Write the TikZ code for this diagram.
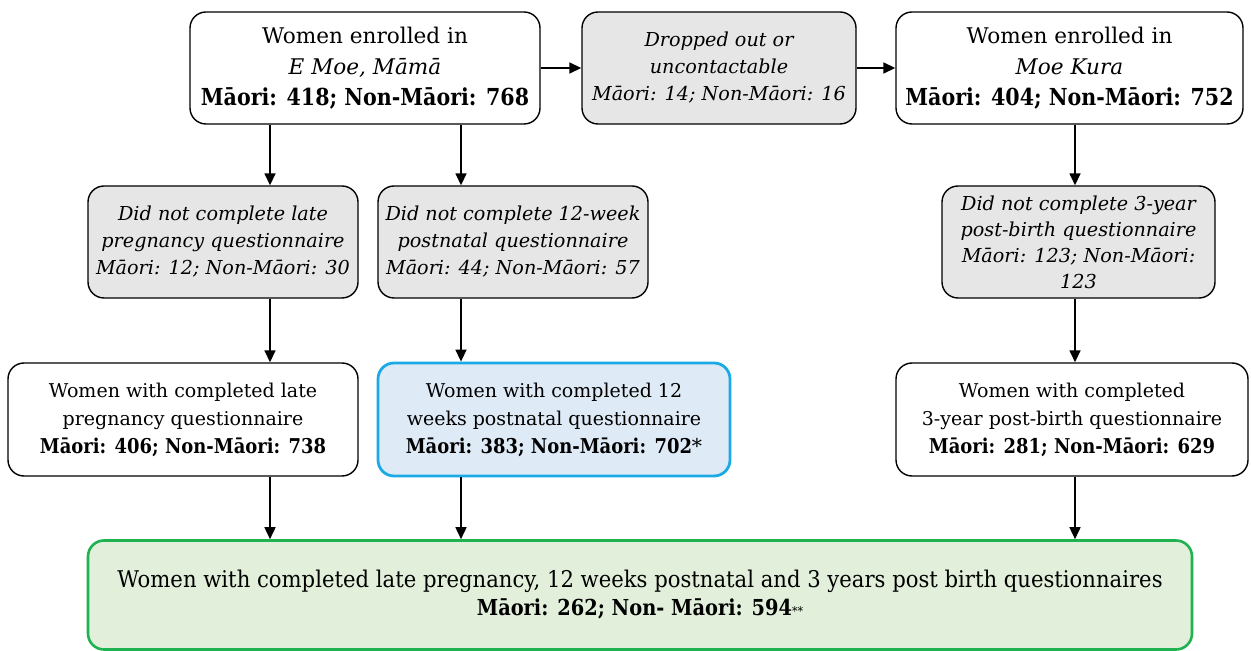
\documentclass[tikz,border=0pt]{standalone}
\usepackage{fontspec}
\setmainfont{DejaVu Serif}
\newfontfamily\narrowserif[FakeStretch=0.92]{DejaVu Serif}
\newfontfamily\countfont[FakeStretch=0.88]{DejaVu Serif}
\usetikzlibrary{arrows.meta}

\definecolor{greyfill}{RGB}{230,230,230}
\definecolor{bluefill}{RGB}{222,234,246}
\definecolor{blueline}{RGB}{27,170,230}
\definecolor{greenfill}{RGB}{226,239,218}
\definecolor{greenline}{RGB}{30,178,80}

\tikzset{
  box/.style={draw, rounded corners=8pt, line width=0.7pt, align=center, inner sep=0pt,
    font=\fontsize{9.5}{14}\selectfont},
  dropbox/.style={box, fill=greyfill, font=\itshape\fontsize{9.6}{13.5}\selectfont},
  arr/.style={line width=0.8pt, -{Triangle[length=6pt,width=5.5pt]}},
}
\newcommand{\counts}[1]{{\countfont\bfseries #1}}

\begin{document}
\begin{tikzpicture}[x=0.5pt, y=-0.5pt]
            \useasboundingbox (0,0) rectangle (1251,651);
            % top row
            \node[box, minimum width=175pt, minimum height=56pt, font=\fontsize{10.8}{15.5}\selectfont] (enrolmoe) at (365,68)
                {Women enrolled in\\ \textit{E Moe, Māmā}\\ {\fontsize{11.7}{15.5}\selectfont\counts{Māori: 418; Non-Māori: 768}}};
            \node[dropbox, minimum width=137pt, minimum height=56pt] (dropped) at (719,68)
                {Dropped out or\\ uncontactable\\ Māori: 14; Non-Māori: 16};
            \node[box, minimum width=173.5pt, minimum height=56pt, font=\fontsize{10.8}{15.5}\selectfont] (enrolkura) at (1069.5,68)
                {Women enrolled in\\ \textit{Moe Kura}\\ {\fontsize{11.7}{15.5}\selectfont\counts{Māori: 404; Non-Māori: 752}}};
            % did not complete
            \node[dropbox, minimum width=135pt, minimum height=56pt] (nolate) at (223,242)
                {Did not complete late\\ pregnancy questionnaire\\ Māori: 12; Non-Māori: 30};
            \node[dropbox, minimum width=135pt, minimum height=56pt] (noweek) at (513,242)
                {Did not complete 12-week\\ postnatal questionnaire\\ Māori: 44; Non-Māori: 57};
            \node[dropbox, minimum width=136.5pt, minimum height=56pt, font=\itshape\fontsize{9.6}{13}\selectfont] (noyear) at (1078.5,242)
                {Did not complete 3-year\\ post-birth questionnaire\\ Māori: 123; Non-Māori:\\ 123};
            % completed
            \node[box, minimum width=175pt, minimum height=56.5pt] (donelate) at (183,419.5)
                {Women with completed late\\ pregnancy questionnaire\\ {\fontsize{10.2}{14}\selectfont\counts{Māori: 406; Non-Māori: 738}}};
            \node[box, draw=blueline, fill=bluefill, line width=1.4pt, minimum width=176pt, minimum height=56.5pt] (doneweek) at (554,419.5)
                {Women with completed 12\\ weeks postnatal questionnaire\\ {\fontsize{10.2}{14}\selectfont\counts{Māori: 383; Non-Māori: 702}*}};
            \node[box, minimum width=176pt, minimum height=56.5pt] (doneyear) at (1072,419.5)
                {Women with completed\\ 3-year post-birth questionnaire\\ {\fontsize{10.2}{14}\selectfont\counts{Māori: 281; Non-Māori: 629}}};
            % all three
            \node[box, draw=greenline, fill=greenfill, line width=1.3pt, minimum width=552pt, minimum height=54.5pt,
                  font=\narrowserif\fontsize{11.5}{14}\selectfont] (doneall) at (640,595)
                {Women with completed late pregnancy, 12 weeks postnatal and 3 years post birth questionnaires\\
                 {\fontsize{11}{14}\selectfont\counts{Māori: 262; Non- Māori: 594}}{\fontsize{6}{6}\selectfont**}};
            % columns of the arrows
            \coordinate (colA) at (270,0);
            \coordinate (colB) at (461,0);
            \coordinate (colC) at (1075,0);
            \draw[arr] (enrolmoe) -- (dropped);
            \draw[arr] (dropped) -- (enrolkura);
            \draw[arr] (enrolmoe.south -| colA) -- (nolate.north -| colA);
            \draw[arr] (enrolmoe.south -| colB) -- (noweek.north -| colB);
            \draw[arr] (enrolkura.south -| colC) -- (noyear.north -| colC);
            \draw[arr] (nolate.south -| colA) -- (donelate.north -| colA);
            \draw[arr] (noweek.south -| colB) -- (doneweek.north -| colB);
            \draw[arr] (noyear.south -| colC) -- (doneyear.north -| colC);
            \draw[arr] (donelate.south -| colA) -- (doneall.north -| colA);
            \draw[arr] (doneweek.south -| colB) -- (doneall.north -| colB);
            \draw[arr] (doneyear.south -| colC) -- (doneall.north -| colC);
        \end{tikzpicture}
\end{document}
